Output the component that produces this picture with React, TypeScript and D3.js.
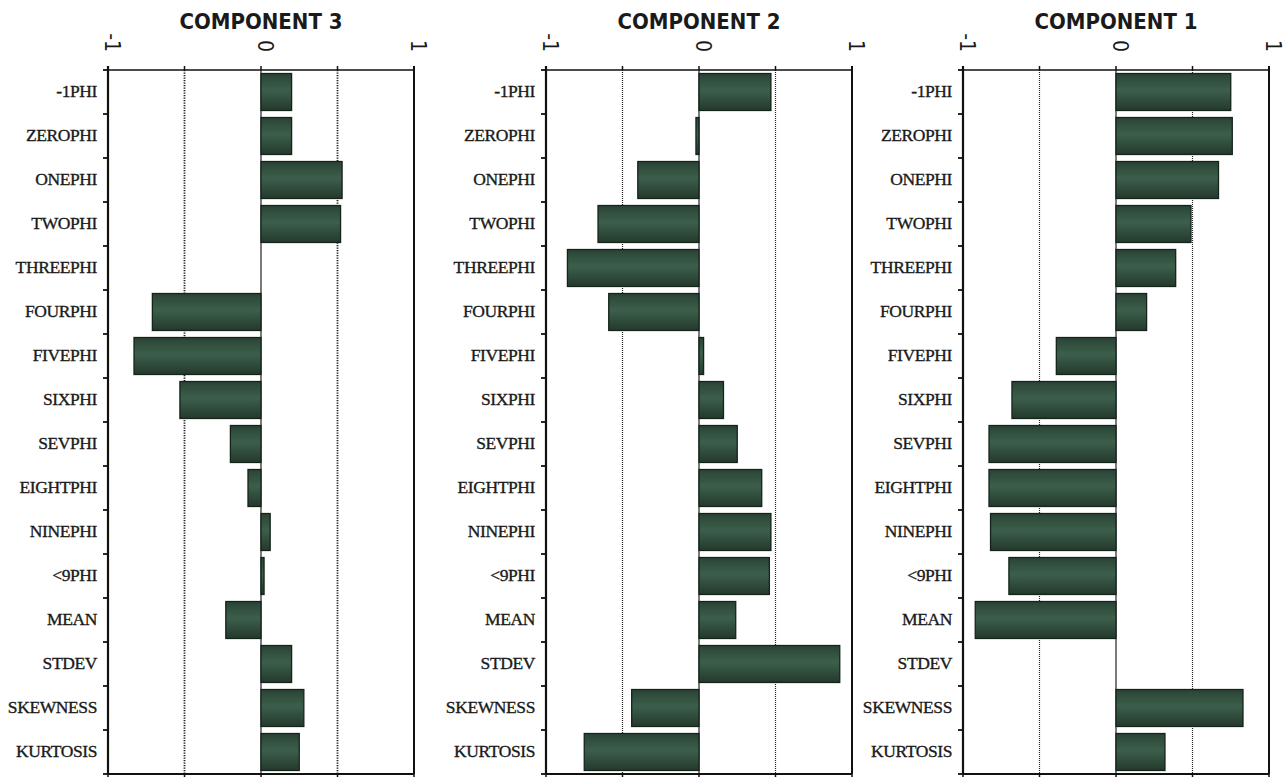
import React from "react";
import * as d3 from "d3";

const categories = [
  "-1PHI", "ZEROPHI", "ONEPHI", "TWOPHI", "THREEPHI", "FOURPHI", "FIVEPHI", "SIXPHI",
  "SEVPHI", "EIGHTPHI", "NINEPHI", "<9PHI", "MEAN", "STDEV", "SKEWNESS", "KURTOSIS",
];

const component3 = [0.20, 0.20, 0.53, 0.52, 0, -0.71, -0.83, -0.53, -0.20, -0.085, 0.06, 0.02, -0.23, 0.20, 0.28, 0.25];
const component2 = [0.47, -0.02, -0.40, -0.66, -0.86, -0.59, 0.03, 0.16, 0.25, 0.41, 0.47, 0.46, 0.24, 0.92, -0.44, -0.75];
const component1 = [0.75, 0.76, 0.67, 0.49, 0.39, 0.20, -0.39, -0.68, -0.83, -0.83, -0.82, -0.70, -0.92, 0, 0.83, 0.32];

const titles = ["COMPONENT 3", "COMPONENT 2", "COMPONENT 1"];
const seriesList = [component3, component2, component1];
const tickLabels = ["-1", "0", "1"];
const tickLabelValues = [-1, 0, 1];
const gridValues = [-0.5, 0.5];
const topTickValues = [-1, -0.5, 0, 0.5, 1];

const panelLefts = [108, 546, 963];
const panelWidth = 306;
const top = 70;
const bottom = 774;

function Panel({ idx }: { idx: number }) {
  const left = panelLefts[idx];
  const right = left + panelWidth;
  const values = seriesList[idx];
  const x = d3.scaleLinear().domain([-1, 1]).range([left, right]);
  const y = d3
    .scaleBand<string>()
    .domain(categories)
    .range([top, bottom])
    .paddingInner(0.16)
    .paddingOuter(0.08);
  const step = y.step();
  const bw = y.bandwidth();
  const boundaries = d3.range(categories.length + 1).map((i) => top + i * step);

  return (
    <g>
      <text
        x={(left + right) / 2}
        y={29}
        textAnchor="middle"
        fontFamily="'DejaVu Sans Condensed', 'DejaVu Sans', sans-serif"
        fontWeight="bold"
        fontSize={22}
        fill="#1a1a1a"
      >
        {titles[idx]}
      </text>
      {tickLabels.map((t, i) => (
        <text
          key={t}
          transform={`translate(${x(tickLabelValues[i]) - 3},${52}) rotate(90)`}
          textAnchor="end"
          fontFamily="'DejaVu Sans Condensed', 'DejaVu Sans', sans-serif"
          fontSize={21}
          fill="#1a1a1a"
        >
          {t}
        </text>
      ))}
      {gridValues.map((g) => (
        <line
          key={g}
          x1={x(g)}
          x2={x(g)}
          y1={top}
          y2={bottom}
          stroke="#222"
          strokeWidth={idx === 0 ? 1.8 : 1.2}
          strokeDasharray={idx === 0 ? "1.3,1.2" : "1,1"}
        />
      ))}
      <line x1={x(0)} x2={x(0)} y1={top} y2={bottom} stroke="#222" strokeWidth={1.2} />
      {values.map((v, i) =>
        v === 0 ? null : (
          <rect
            key={categories[i]}
            x={Math.min(x(0), x(v))}
            y={y(categories[i])!}
            width={Math.abs(x(v) - x(0))}
            height={bw}
            fill="url(#barGrad)"
            stroke="#15241b"
            strokeWidth={1.3}
          />
        )
      )}
      <line x1={left} x2={right} y1={top} y2={top} stroke="#111" strokeWidth={1.6} />
      <line x1={left} x2={right} y1={bottom} y2={bottom} stroke="#111" strokeWidth={2} />
      <line x1={left} x2={left} y1={top - 4} y2={bottom} stroke="#111" strokeWidth={2.2} />
      <line x1={right} x2={right} y1={top - 4} y2={bottom} stroke="#111" strokeWidth={2} />
      {topTickValues.map((t) => (
        <line key={"tt" + t} x1={x(t)} x2={x(t)} y1={top - 4} y2={top} stroke="#111" strokeWidth={1.5} />
      ))}
      {topTickValues.map((t) => (
        <line key={"bt" + t} x1={x(t)} x2={x(t)} y1={bottom} y2={bottom + 3} stroke="#111" strokeWidth={1.5} />
      ))}
      {boundaries.map((b, i) => (
        <line key={"lt" + i} x1={left - 5} x2={left} y1={b} y2={b} stroke="#111" strokeWidth={1.8} />
      ))}
      {categories.map((c) => (
        <text
          key={c}
          x={left - 11}
          y={y(c)! + bw / 2 + 1}
          textAnchor="end"
          dominantBaseline="middle"
          fontFamily="'Liberation Serif', 'Times New Roman', serif"
          fontSize={17.5}
          letterSpacing={-0.4}
          fill="#1a1a1a"
          stroke="#1a1a1a"
          strokeWidth={0.35}
        >
          {c}
        </text>
      ))}
    </g>
  );
}

export default function App() {
  return (
    <svg
      width={1285}
      height={777}
      style={{ position: "absolute", left: 0, top: 0, background: "#fff" }}
    >
      <defs>
        <linearGradient id="barGrad" x1="0" y1="0" x2="0" y2="1">
          <stop offset="0" stopColor="#2a4335" />
          <stop offset="0.45" stopColor="#3c5f4b" />
          <stop offset="1" stopColor="#24392c" />
        </linearGradient>
      </defs>
      <rect x={0} y={0} width={1285} height={777} fill="#fff" />
      {titles.map((t, i) => (
        <Panel key={t} idx={i} />
      ))}
    </svg>
  );
}
